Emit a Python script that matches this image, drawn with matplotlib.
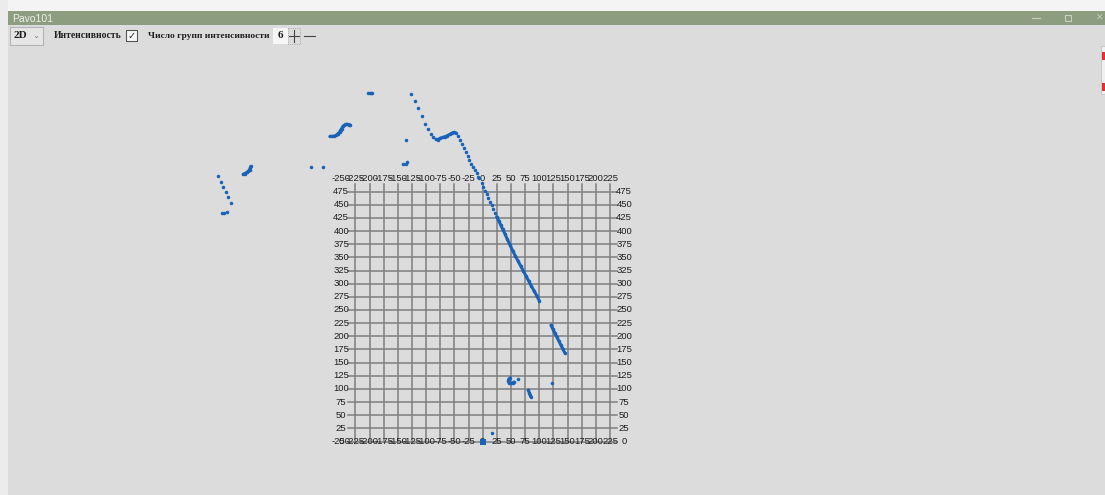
import matplotlib
matplotlib.use("Agg")
import matplotlib.pyplot as plt
from matplotlib.patches import Rectangle

# ---- scan points (chart units) ----
far_left_x = [-468, -463, -458, -454, -450, -445, -461, -457, -452]
far_left_y = [504, 493, 483, 474, 464, 453, 434, 435, 436]

arc_left_x = [-423, -420, -417, -414, -412, -411, -410]
arc_left_y = [508, 509.5, 511.5, 514, 516, 519.5, 523]

pair_x = [-303, -283]
pair_y = [522, 521]

ledge_x = [-270, -266, -263, -259, -256, -253, -251, -249, -247, -245, -242, -240, -237, -234.5]
ledge_y = [580, 580, 580.5, 582, 585, 588, 592, 595, 599, 601, 603, 603, 602.5, 602]

top_x = [-203, -200, -197, -195]
top_y = [662, 662, 662, 662]

lone_x = [-136, -140, -136, -133]
lone_y = [573, 528, 528, 531]

wall_upper_x = [-126, -120, -114, -108, -102, -96.6, -91.3, -87.3]
wall_upper_y = [660, 647, 633.5, 619, 604, 593.5, 585, 578]

bend_x = [-82.5, -79, -75.4, -71, -66.6, -62.2, -57.8, -54.2, -50.7, -47.2]
bend_y = [574.5, 574, 576.4, 578, 579.5, 581.7, 584, 586.5, 587.5, 586.5]

slope_x = [-44.2, -40.1, -36.6, -33, -30, -26.5, -23.7, -20.1, -16.6, -14.1, -10.6,
           -7.8, -6, -1.8, 1.1, 4.1, 7.1, 9.9, 12.9, 15.9, 18.7, 21.7]
slope_y = [580, 572.6, 566, 558, 551, 543, 536, 527.6, 521, 515.6, 510,
           503.4, 500.4, 492, 484.4, 476.8, 470.5, 463.5, 456, 449, 441.4, 433.8]

wall_x = [24.7, 28.3, 31.8, 35.3, 39.4, 43.5, 48.2, 53, 57.6, 62.4, 67.1, 71.7,
          76.5, 81.3, 85.9, 90.6, 95.4, 100]
wall_y = [427.4, 419.8, 411.6, 403.4, 394.5, 384.4, 373.6, 362.7, 352.7, 343.2, 333.7, 324.7,
          314.6, 305.1, 295.6, 286.7, 277.2, 267.7]

right_x = [120.7, 124, 127.5, 131, 134.5, 138, 141.5, 145]
right_y = [221, 213.5, 206, 198.5, 191, 183.5, 176, 168.5]

hook_x = [48.8, 45.9, 45.2, 46.5, 49.5, 53, 55.3]
hook_y = [121.3, 118.3, 115, 111.8, 110.6, 111.2, 113.1]

tick_x = [80.6, 82.3, 83.6, 84.8]
tick_y = [97.9, 92.8, 89, 85.2]

stray_x = [62.9, 123, 15.9]
stray_y = [119.4, 111.8, 15.6]

# grid / tick values
x_ticks = list(range(-250, 226, 25))
y_ticks = list(range(0, 476, 25))

BLUE = "#1a62b8"
GRID = "#7f7f7f"
BG = "#dcdcdc"

fig = plt.figure(figsize=(11.05, 4.95), dpi=100, facecolor=BG)

# ----- chart axes (whole figure, units mapped to the screen grid) -----
ax = fig.add_axes([0, 0, 1, 1])
ax.set_facecolor(BG)
sx, sy = 0.566, 0.526  # px per unit
ax.set_xlim(-482.7 / sx, (1105 - 482.7) / sx)
ax.set_ylim((441.5 - 495) / sy, 441.5 / sy)
ax.axis("off")

for xv in range(-225, 226, 25):
    ax.plot([xv, xv], [0, 490], color=GRID, lw=1.1, zorder=1)
for yv in range(0, 476, 25):
    ax.plot([-238, 238], [yv, yv], color=GRID, lw=1.1, zorder=1)

lab = dict(fontsize=6.8, family=["Liberation Sans", "DejaVu Sans"], color="#1e1e1e",
           ha="center", va="center", zorder=3)
for xv in x_ticks:
    ax.text(xv, 500, str(xv), **lab)
    ax.text(xv, 0, str(xv), **lab)
for yv in y_ticks:
    ax.text(-250, yv, str(yv), **lab)
    ax.text(250, yv, str(yv), **lab)

dots = [(far_left_x, far_left_y), (arc_left_x, arc_left_y), (pair_x, pair_y),
        (ledge_x, ledge_y), (top_x, top_y), (lone_x, lone_y),
        (wall_upper_x, wall_upper_y), (bend_x, bend_y), (slope_x, slope_y),
        (wall_x, wall_y), (right_x, right_y), (hook_x, hook_y),
        (tick_x, tick_y), (stray_x, stray_y)]
for xs, ys in dots:
    ax.scatter(xs, ys, s=6.5, marker="o", color=BLUE, linewidths=0, zorder=4)

for xs, ys in [(arc_left_x, arc_left_y), (ledge_x, ledge_y), (bend_x, bend_y),
               (wall_x, wall_y), (right_x, right_y), (hook_x, hook_y), (tick_x, tick_y)]:
    ax.plot(xs, ys, color=BLUE, lw=2.2, solid_capstyle="round",
            solid_joinstyle="round", zorder=5)

ax.scatter([0], [0], s=20, marker="s", color=BLUE, linewidths=0, zorder=6)

# ----- window chrome (screen pixels) -----
ui = fig.add_axes([0, 0, 1, 1], facecolor="none")
ui.set_xlim(0, 1105)
ui.set_ylim(495, 0)
ui.axis("off")

ui.add_patch(Rectangle((0, 0), 1105, 11, color="#f4f4f4", lw=0))
ui.add_patch(Rectangle((0, 0), 8, 495, color="#ececec", lw=0))
ui.add_patch(Rectangle((8, 11), 1097, 14, color="#8d9d7f", lw=0))
ui.text(12, 18.5, "Pavo101", fontsize=7.5, color="#eef1ea", va="center",
        family=["Liberation Sans", "DejaVu Sans"])
ui.plot([1032, 1040], [18, 18], color="#c8d0c0", lw=0.8)
ui.add_patch(Rectangle((1065, 15), 6, 6, fill=False, ec="#c8d0c0", lw=0.8))
ui.text(1100, 18, "✕", fontsize=6.5, color="#c8d0c0", ha="center", va="center")

serif = dict(family=["Liberation Serif", "DejaVu Serif"], color="#1e1e1e", va="center")
ui.add_patch(Rectangle((10, 27), 33, 18, fc="#e6e6e6", ec="#b4b4b4", lw=0.8))
ui.text(14, 36, "2D", fontsize=8, weight="bold", **serif)
ui.text(36, 35.5, "⌄", fontsize=6, color="#777777", ha="center", va="center")
ui.text(54, 36, "Интенсивность", fontsize=6.9, weight="bold", **serif)
ui.add_patch(Rectangle((126, 30), 11, 11, fc="#f8f8f8", ec="#555555", lw=0.8))
ui.text(131.5, 35.5, "✓", fontsize=7, color="#222222", ha="center", va="center")
ui.text(148, 36, "Число групп интенсивности", fontsize=6.8, weight="bold", **serif)
ui.add_patch(Rectangle((273, 28), 15, 16, fc="#f6f6f6", ec="none"))
ui.text(280.5, 36, "6", fontsize=8, weight="bold", ha="center", **serif)
ui.add_patch(Rectangle((288, 28), 12, 16, fill=False, ec="#9a9a9a", lw=0.6, ls=":"))
ui.plot([289, 299], [36, 36], color="#444444", lw=0.8)
ui.plot([294, 294], [30, 42], color="#444444", lw=0.8)
ui.plot([304, 315], [36, 36], color="#444444", lw=0.8)

ui.add_patch(Rectangle((1101, 46), 4, 48, fc="#f0f0f0", ec="#bdbdbd", lw=0.5))
ui.add_patch(Rectangle((1102, 52), 3, 8, color="#e03030", lw=0))
ui.add_patch(Rectangle((1102, 83), 3, 8, color="#e03030", lw=0))

fig.savefig("out.png", dpi=100, facecolor=BG)
